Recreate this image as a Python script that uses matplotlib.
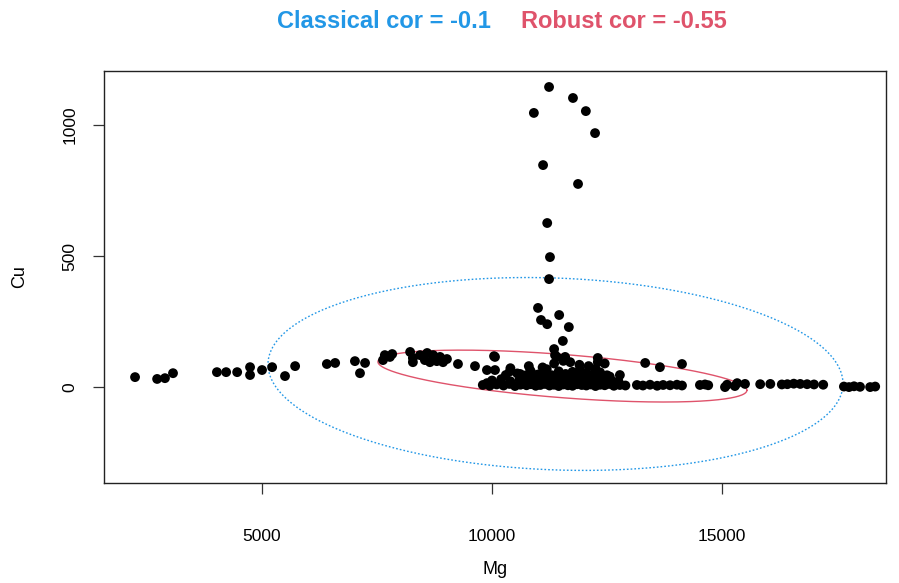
import numpy as np
import matplotlib
matplotlib.use("Agg")
import matplotlib.pyplot as plt

plt.rcParams['font.family'] = ['Liberation Sans', 'DejaVu Sans']

# Mg / Cu values
mg = [2240, 2720, 2890, 3065, 4020, 4220, 4460, 4740, 4740, 5000, 5220, 5500, 5720,
      6410, 6590, 7020, 7240, 7130, 7630, 7780, 7670, 7830,
      8220, 8280, 8435, 8590, 8720, 8870, 9020, 8280, 8650, 8935, 8800, 8540,
      9260, 9630, 9890, 10065, 10065, 9890, 10020, 10044,
      # spike
      11240, 11760, 10910, 12040, 12240, 11110, 11870, 11200, 11260, 11240,
      11000, 11065, 11200, 11460, 11670, 11540, 11350, 11370, 11410, 11590, 12300, 12780,
      # dense bottom row
      9800, 9950, 10100, 10250, 10380, 10500, 10620, 10750, 10850, 10950, 11050,
      11150, 11250, 11350, 11450, 11550, 11650, 11750, 11850, 11950, 12050, 12150,
      12250, 12350, 12450, 12550, 12650, 12780, 12900,
      # second row
      10000, 10200, 10400, 10600, 10750, 10900, 11000, 11100, 11200, 11300, 11400,
      11500, 11600, 11700, 11800, 11900, 12000, 12100, 12200, 12300, 12450, 12600, 12750,
      # third row
      10300, 10550, 10700, 10850, 11000, 11150, 11300, 11450, 11600, 11750, 11900,
      12050, 12200, 12350, 12500,
      # fourth row
      10400, 10800, 11100, 11350, 11550, 11700, 11900, 12100, 12300, 12450, 12250,
      10390, 10830, 11190, 10610, 11910, 12560,
      # right tail
      13330, 13650, 14130,
      13150, 13280, 13435, 13590, 13720, 13870, 14020, 14130, 14520, 14630, 14700,
      15065, 15110, 15280, 15330, 15500,
      15830, 16050, 16300, 16420, 16560, 16700, 16850, 17000, 17200,
      17650, 17760, 17870, 18000, 18220, 18330]
cu = [38, 31, 34, 53, 57, 57, 57, 76, 46, 65, 76, 42, 80,
      88, 92, 99, 92, 53, 103, 115, 122, 126,
      134, 111, 122, 130, 122, 115, 107, 95, 95, 95, 99, 103,
      88, 80, 65, 115, 65, 15, 15, 118,
      1145, 1103, 1046, 1053, 969, 847, 775, 626, 496, 412,
      302, 256, 240, 275, 229, 176, 145, 122, 115, 115, 111, 46,
      8, 5, 10, 6, 12, 4, 9, 7, 11, 5, 8,
      12, 6, 9, 4, 10, 7, 5, 11, 8, 6, 10,
      4, 9, 7, 12, 5, 8, 6,
      25, 30, 22, 28, 33, 24, 30, 27, 35, 22, 29,
      31, 26, 34, 24, 30, 28, 33, 25, 31, 27, 24, 22,
      46, 52, 44, 57, 48, 55, 45, 60, 50, 58, 47,
      54, 49, 56, 45,
      72, 80, 75, 90, 100, 95, 85, 80, 95, 90, 70,
      60, 64, 68, 50, 66, 40,
      92, 76, 88,
      8, 6, 9, 5, 8, 7, 9, 6, 8, 10, 7,
      0, 9, 4, 15, 12,
      11, 12, 10, 11, 13, 12, 11, 10, 9,
      2, 0, 3, 1, 0, 2]

# tolerance ellipses: center, half-extent in x and y, correlation
classical_center = (11380, 50)
classical_extent = (6250, 368)
classical_cor = -0.1
robust_center = (11530, 42)
robust_extent = (4010, 99)
robust_cor = -0.55

blue = '#2297E6'
red = '#DF536B'


def ellipse_xy(center, extent, rho, n=400):
    t = np.linspace(0, 2 * np.pi, n)
    x = center[0] + extent[0] * np.cos(t)
    y = center[1] + extent[1] * (rho * np.cos(t) + np.sqrt(1 - rho ** 2) * np.sin(t))
    return x, y


fig = plt.figure(figsize=(8.99, 5.83), dpi=100)
ax = fig.add_axes([104 / 899, 1 - 483 / 583, 782 / 899, 412 / 583])

ax.scatter(mg, cu, s=50, c='black', edgecolors='none', zorder=3)
x, y = ellipse_xy(classical_center, classical_extent, classical_cor)
ax.plot(x, y, color=blue, lw=1, ls=(0, (1.2, 1.5)), zorder=2)
x, y = ellipse_xy(robust_center, robust_extent, robust_cor)
ax.plot(x, y, color=red, lw=1, zorder=2)

ax.set_xlim(1565, 18565)
ax.set_ylim(-366, 1206)
ax.set_xticks([5000, 10000, 15000])
ax.set_yticks([0, 500, 1000])
ax.set_yticklabels(['0', '500', '1000'], rotation=90, va='center')
ax.tick_params(axis='both', length=8, width=0.9, labelsize=12.5, color='#333333')
ax.tick_params(axis='x', pad=25)
ax.tick_params(axis='y', pad=11)
for sp in ax.spines.values():
    sp.set_linewidth(1)
    sp.set_color('#222222')

fig.text(495 / 899, 1 - 570 / 583, 'Mg', ha='center', va='center', fontsize=13)
fig.text(20 / 899, 1 - 277 / 583, 'Cu', ha='center', va='center', fontsize=13, rotation=90)

fig.text(491 / 899, 1 - 22 / 583, 'Classical cor = -0.1', color=blue, ha='right',
         va='center', fontsize=17, fontweight='bold')
fig.text(521 / 899, 1 - 22 / 583, 'Robust cor = -0.55', color=red, ha='left',
         va='center', fontsize=17, fontweight='bold')

fig.savefig('out.png', dpi=100)
